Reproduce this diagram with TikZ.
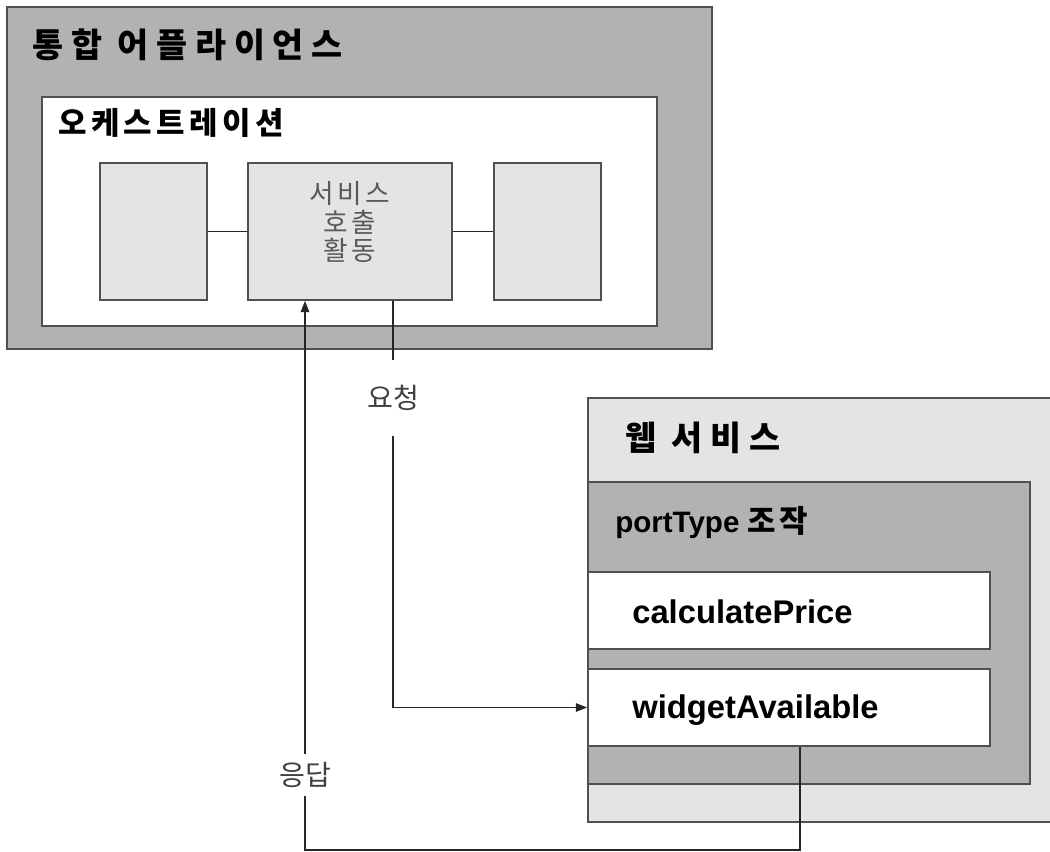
\documentclass[tikz,border=0pt]{standalone}
\usepackage{fontspec}
\setmainfont{Liberation Sans}
\newfontfamily\krfont{Noto Sans CJK KR}
\newfontfamily\krwide[LetterSpace=12]{Noto Sans CJK KR}
\newfontfamily\krorch[LetterSpace=14]{Noto Sans CJK KR}
\newfontfamily\krtitle[LetterSpace=23]{Noto Sans CJK KR}
\usetikzlibrary{arrows.meta,fit}
\definecolor{darkfill}{HTML}{B2B2B2}
\definecolor{palefill}{HTML}{E4E4E4}
\definecolor{edgegray}{HTML}{505050}

\begin{document}
\begin{tikzpicture}[x=0.025cm,y=-0.025cm,
  box/.style={draw=edgegray,line width=1.2pt,inner sep=0pt},
  title/.style={anchor=west,inner sep=0pt,font=\krtitle\bfseries\fontsize{24pt}{28pt}\selectfont},
  optext/.style={anchor=west,inner sep=0pt,font=\bfseries\fontsize{23.3pt}{27pt}\selectfont},
  wire/.style={line width=0.9pt,black!85},
  tag/.style={inner xsep=2pt,font=\krfont\fontsize{20pt}{24pt}\selectfont,text=black!75}]
\useasboundingbox (0,0) rectangle (1050,852);
% integration appliance
\node[box,fill=darkfill,fit={(7,7) (712,349)}] (appl) {};
\node[title] (appltitle) at (32,45) {통합 어플라이언스};
\node[box,fill=white,fit={(42,97) (657,326)}] (orch) {};
\node[title,font=\krorch\bfseries\fontsize{22pt}{26pt}\selectfont] (orchtitle) at (58,123) {오케스트레이션};
\node[box,fill=palefill,fit={(100,163) (207,300)}] (leftact) {};
\node[box,fill=palefill,fit={(248,163) (452,300)}] (invoke) {};
\node[box,fill=palefill,fit={(494,163) (601,300)}] (rightact) {};
\node[align=center,text=black!65,font=\krwide\fontsize{19pt}{20pt}\selectfont] (invoketext) at (350,222) {서비스\\호출\\활동};
\draw[wire] (leftact) -- (invoke);
\draw[wire] (invoke) -- (rightact);
% web service
\node[box,fill=palefill,fit={(588,398) (1060,822)}] (websvc) {};
\node[title] (webtitle) at (625,438) {웹 서비스};
\node[box,fill=darkfill,fit={(588,482) (1030,784)}] (ports) {};
\node[anchor=west,inner sep=0pt,font=\bfseries\fontsize{21pt}{25pt}\selectfont] (porttitle) at (615,523) {portType {\krwide\fontsize{22pt}{26pt}\selectfont 조작}};
\node[box,fill=white,fit={(588,572) (990,649)}] (calc) {};
\node[optext] (calctext) at (632,612) {calculatePrice};
\node[box,fill=white,fit={(588,669) (990,746)}] (widget) {};
\node[optext] (widgettext) at (632,710) {widgetAvailable};
% request and response
\coordinate (reqx) at (393,0);
\coordinate (ansx) at (800,0);
\coordinate (ansbot) at (305,850);
\node[tag,inner ysep=18pt] (req) at (393,398) {요청};
\node[tag,inner ysep=6pt] (ans) at (305,775) {응답};
\draw[wire] (invoke.south -| reqx) -- (req.north);
\draw[wire,-{Triangle[length=8pt,width=6pt]}] (req.south) |- (widget.west);
\draw[wire] (widget.south -| ansx) |- (ansbot) -- (ans.south);
\draw[wire,-{Triangle[length=8pt,width=6pt]}] (ans.north) -- (invoke.south -| ans);
\end{tikzpicture}
\end{document}
